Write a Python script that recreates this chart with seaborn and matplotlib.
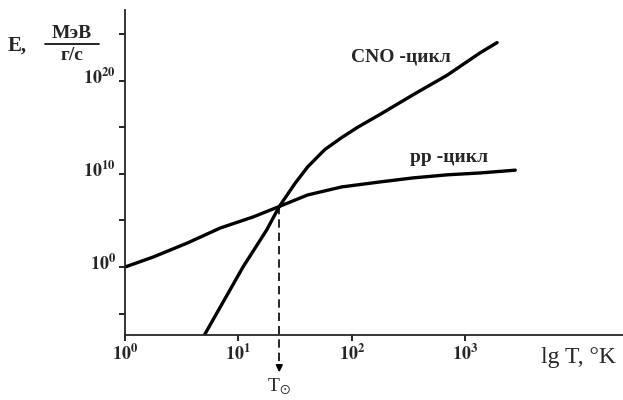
import numpy as np
import pandas as pd
import matplotlib
matplotlib.use('Agg')
import matplotlib.pyplot as plt
import matplotlib.transforms as mtransforms
import seaborn as sns

# log10 values
pp_logT = [0.0, 0.25, 0.55, 0.84, 1.13, 1.36, 1.61, 1.91, 2.25, 2.54, 2.84, 3.13, 3.44]
pp_logE = [0.0, 1.08, 2.58, 4.19, 5.38, 6.5, 7.74, 8.6, 9.14, 9.57, 9.9, 10.1, 10.4]

cno_logT = [0.70, 1.04, 1.25, 1.36, 1.50, 1.61, 1.76, 1.91, 2.05, 2.25, 2.54, 2.84, 3.13, 3.28]
cno_logE = [-7.3, 0.0, 4.0, 6.5, 9.0, 10.75, 12.6, 13.9, 15.0, 16.4, 18.5, 20.6, 23.0, 24.1]

sun_logT = 1.36
sun_logE = 6.5

xtick_exp = [0, 1, 2, 3]
ytick_exp = [0, 10, 20]
yminor_exp = [-5, 5, 15, 25]

df = pd.concat([
    pd.DataFrame({'T': 10.0 ** np.array(pp_logT), 'E': 10.0 ** np.array(pp_logE), 'cycle': 'pp'}),
    pd.DataFrame({'T': 10.0 ** np.array(cno_logT), 'E': 10.0 ** np.array(cno_logE), 'cycle': 'CNO'}),
])

sns.set_style('ticks')
plt.rcParams['font.family'] = ['Liberation Serif', 'DejaVu Serif']
plt.rcParams['mathtext.fontset'] = 'stix'

fig = plt.figure(figsize=(6.23, 4.0), dpi=100)
ax = fig.add_axes([125 / 623, 65 / 400, 498 / 623, 325 / 400])

sns.lineplot(data=df, x='T', y='E', units='cycle', estimator=None, sort=False,
             color='black', linewidth=2.4, ax=ax)
for line in ax.get_lines():
    line.set_solid_joinstyle('round')
ax.set_xscale('log')
ax.set_yscale('log')
ax.set_xlim(1, 10 ** 4.39)
ax.set_ylim(10 ** -7.3, 10 ** 27.6)

sns.despine(ax=ax)
ax.spines['left'].set_linewidth(1.3)
ax.spines['bottom'].set_linewidth(1.3)

ax.set_xticks([10.0 ** e for e in xtick_exp])
ax.set_xticklabels([r'$\mathbf{10^{%d}}$' % e for e in xtick_exp], fontsize=13)
ax.xaxis.set_minor_locator(matplotlib.ticker.NullLocator())
ax.set_yticks([10.0 ** e for e in ytick_exp])
ax.set_yticklabels([r'$\mathbf{10^{%d}}$' % e for e in ytick_exp], fontsize=13)
ax.set_yticks([10.0 ** e for e in yminor_exp], minor=True)
ax.yaxis.set_minor_formatter(matplotlib.ticker.NullFormatter())
ax.tick_params(axis='both', which='both', direction='out', length=4.5, width=1.2, color='black')
ax.tick_params(axis='x', pad=2)
ax.tick_params(axis='y', pad=2)
for lbl in ax.get_yticklabels():
    lbl.set_transform(lbl.get_transform() + mtransforms.ScaledTranslation(0, 5 / 100, fig.dpi_scale_trans))
ax.set_xlabel('')
ax.set_ylabel('')

# curve labels
ax.text(10 ** 2.43, 10 ** 22.5, 'CNO -цикл', fontsize=14, fontweight='bold', ha='center', va='center')
ax.text(10 ** 2.86, 10 ** 11.8, 'pp -цикл', fontsize=14, fontweight='bold', ha='center', va='center')

# dashed drop line to the Sun temperature
ax.plot([10 ** sun_logT, 10 ** sun_logT], [10 ** sun_logE, 10 ** -11.0], color='black',
        linestyle=(0, (5, 3)), linewidth=1.2, clip_on=False)
ax.annotate('', xy=(10 ** sun_logT, 10 ** -11.6), xytext=(10 ** sun_logT, 10 ** -10.6),
            arrowprops=dict(arrowstyle='-|>', color='black', lw=1.2, mutation_scale=10),
            annotation_clip=False)
ax.text(10 ** sun_logT, 10 ** -12.9, r'T$_{\odot}$', fontsize=14, ha='center', va='center')

# axis labels
fig.text(578 / 623, 1 - 357 / 400, 'lg T, °K', fontsize=17, ha='center', va='center')
fig.text(8 / 623, 1 - 46 / 400, 'E,', fontsize=15, fontweight='bold', ha='left', va='center')
fig.text(72 / 623, 1 - 33 / 400, 'МэВ', fontsize=14, fontweight='bold', ha='center', va='center')
fig.text(72 / 623, 1 - 56 / 400, 'г/с', fontsize=14, fontweight='bold', ha='center', va='center')
fig.add_artist(plt.Line2D([45 / 623, 99 / 623], [1 - 44 / 400, 1 - 44 / 400], color='black', linewidth=1.2))

fig.savefig('out.png', dpi=100)
